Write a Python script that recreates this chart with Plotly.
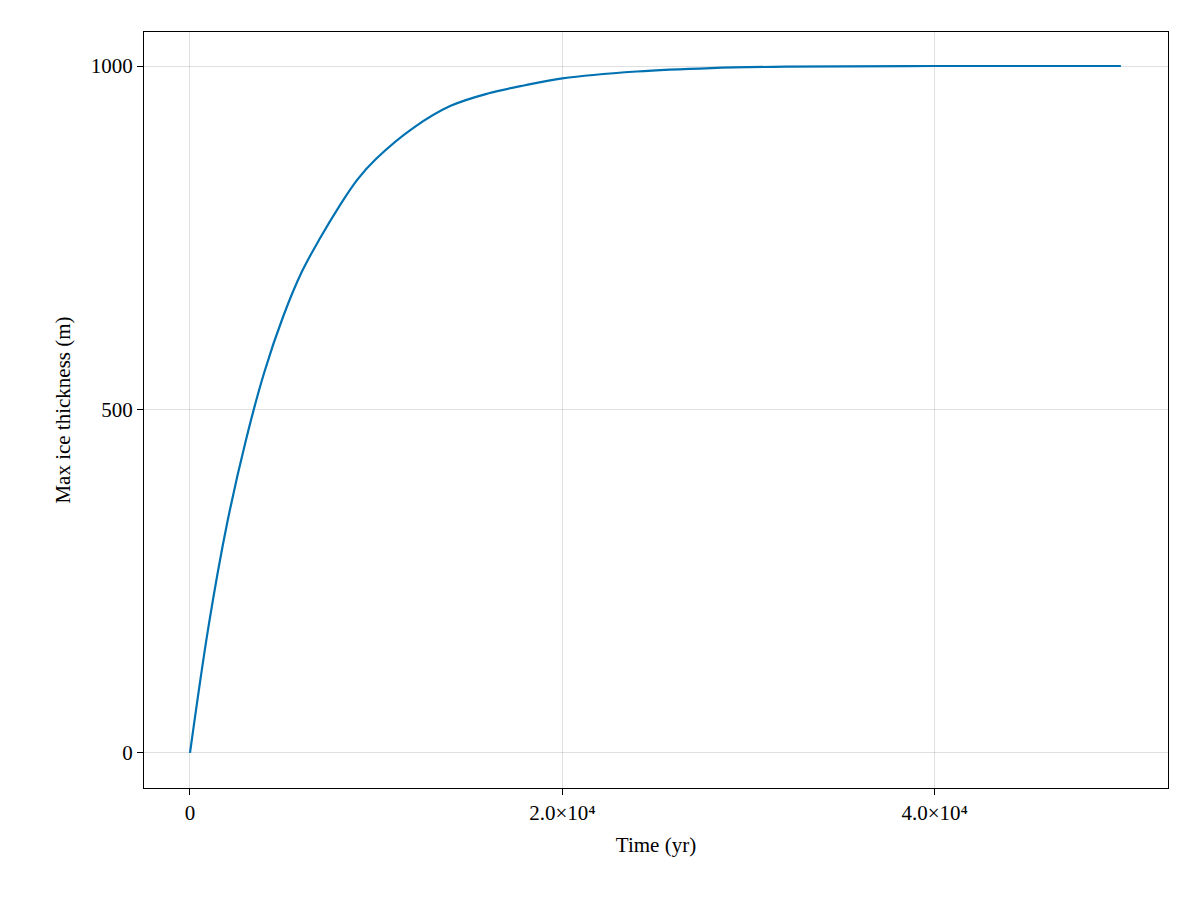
import plotly.graph_objects as go

# values (years, metres)
time_yr = [0, 1000, 2000, 3000, 4000, 5000, 6000, 7000, 8000, 9000, 10000,
           12000, 14000, 16000, 18000, 20000, 24000, 28000, 32000, 40000, 50000]
thickness_m = [0, 185, 335, 455, 555, 635, 700, 750, 795, 835, 865,
               910, 942, 960, 972, 982, 992, 997, 999, 1000, 1000]

x_ticks = [0, 20000, 40000]
x_labels = ["0", "2.0×10⁴", "4.0×10⁴"]
y_ticks = [0, 500, 1000]
y_labels = ["0", "500", "1000"]

fig = go.Figure(go.Scatter(x=time_yr, y=thickness_m, mode="lines",
                           line=dict(color="#0072b2", width=2.2, shape="spline")))

axis_common = dict(showline=True, mirror=True, linecolor="black", linewidth=1.3,
                   ticks="outside", ticklen=6, tickcolor="black",
                   showgrid=True, gridcolor="rgba(0,0,0,0.12)", gridwidth=1,
                   zeroline=False, tickfont=dict(size=21, color="black"))

fig.update_layout(
    width=1200, height=900,
    paper_bgcolor="white", plot_bgcolor="white",
    font=dict(family="Liberation Serif, DejaVu Serif, serif", size=21, color="black"),
    margin=dict(l=136, r=40, t=24, b=120),
    showlegend=False,
    xaxis=dict(axis_common, range=[-2470, 52530], tickvals=x_ticks, ticktext=x_labels,
               title=dict(text="Time (yr)", font=dict(size=21), standoff=12)),
    yaxis=dict(axis_common, range=[-51, 1049.5], tickvals=y_ticks, ticktext=y_labels,
               title=dict(text="Max ice thickness (m)", font=dict(size=21), standoff=14)),
)

fig.write_html("out.html")
